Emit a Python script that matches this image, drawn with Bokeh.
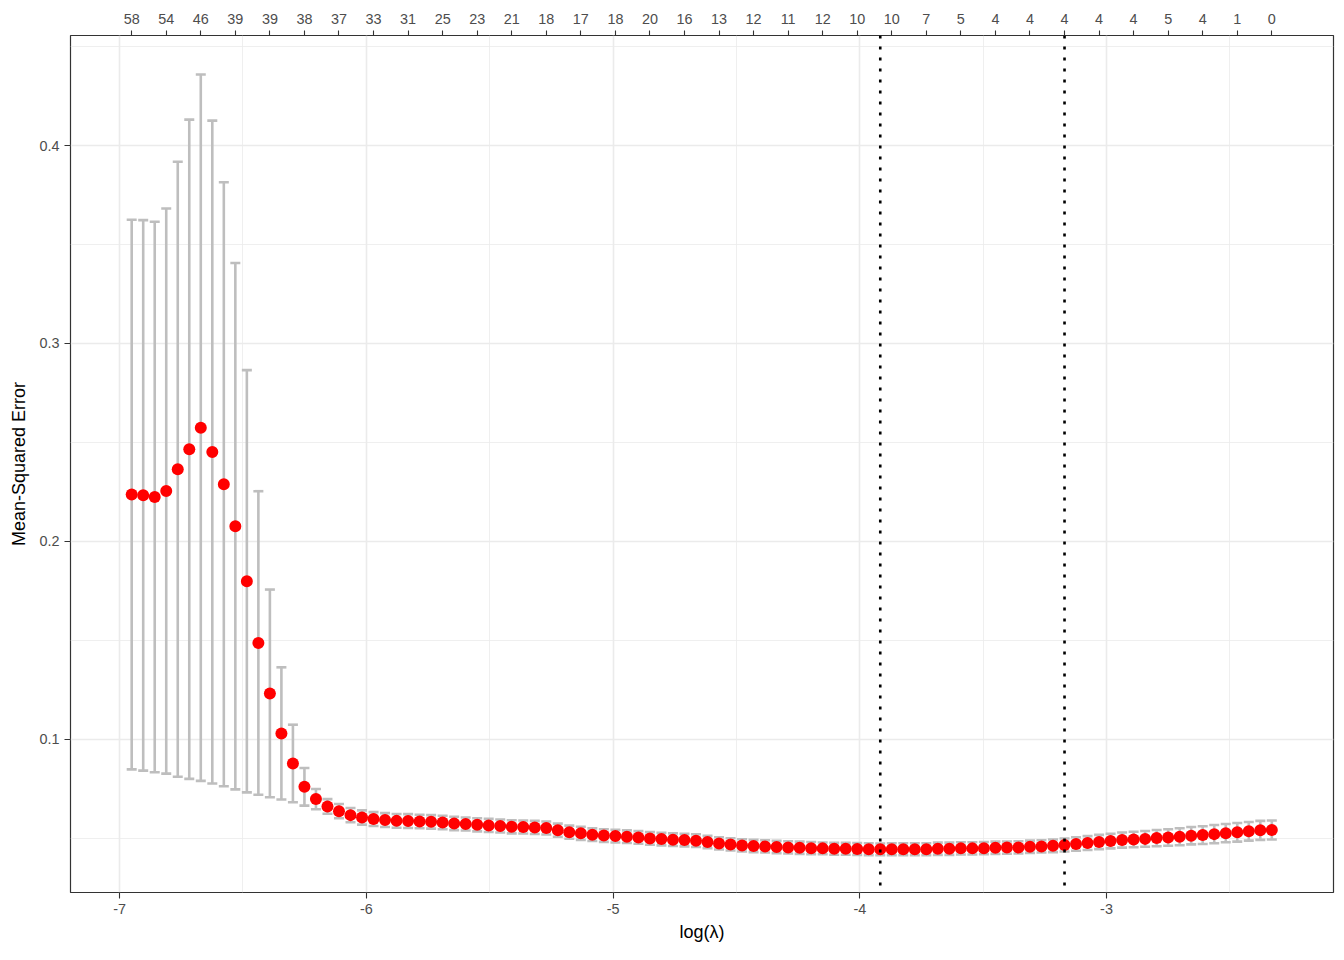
import numpy as np
from bokeh.plotting import figure
from bokeh.models import (ColumnDataSource, Range1d, LinearAxis, FixedTicker,
                          Whisker, TeeHead, Span)
from bokeh.embed import file_html
from bokeh.resources import INLINE

# ---- data ----
log_lambda_first = -6.951
log_lambda_last = -2.330
n_lambda = 100
log_lambda = np.linspace(log_lambda_first, log_lambda_last, n_lambda)

cv_mse = [
    0.2236, 0.2232, 0.2224, 0.2254, 0.2364, 0.2465, 0.2574, 0.2451, 0.2288, 0.2076,
    0.1798, 0.1486, 0.1231, 0.1029, 0.0877, 0.0759, 0.0697, 0.0660, 0.0636, 0.0616,
    0.0604, 0.0596, 0.0591, 0.0587, 0.0586, 0.0584, 0.0582, 0.0579, 0.0574, 0.0571,
    0.0567, 0.0564, 0.0561, 0.0557, 0.0556, 0.0554, 0.0551, 0.0540, 0.0530, 0.0524,
    0.0517, 0.0513, 0.0510, 0.0507, 0.0503, 0.0498, 0.0495, 0.0492, 0.0490, 0.0487,
    0.0480, 0.0473, 0.0468, 0.0463, 0.0460, 0.0458, 0.0455, 0.0453, 0.0451, 0.0449,
    0.0448, 0.0446, 0.0446, 0.0445, 0.0444, 0.0443, 0.0444, 0.0444, 0.0444, 0.0444,
    0.0446, 0.0446, 0.0448, 0.0448, 0.0449, 0.0451, 0.0452, 0.0453, 0.0456, 0.0458,
    0.0461, 0.0465, 0.0470, 0.0475, 0.0480, 0.0485, 0.0490, 0.0493, 0.0496, 0.0500,
    0.0503, 0.0507, 0.0512, 0.0515, 0.0520, 0.0525, 0.0529, 0.0534, 0.0539, 0.0541,
]

cv_sd = [
    0.1389, 0.1391, 0.1391, 0.1428, 0.1554, 0.1666, 0.1785, 0.1675, 0.1526, 0.1330,
    0.1067, 0.0767, 0.0525, 0.0334, 0.0196, 0.0095, 0.0051, 0.0037, 0.0036, 0.0036,
    0.0036, 0.0035, 0.0035, 0.0035, 0.0035, 0.0034, 0.0034, 0.0034, 0.0034, 0.0033,
    0.0033, 0.0033, 0.0033, 0.0033, 0.0033, 0.0033, 0.0033, 0.0033, 0.0033, 0.0033,
    0.0032, 0.0032, 0.0032, 0.0032, 0.0032, 0.0032, 0.0032, 0.0032, 0.0032, 0.0032,
    0.0031, 0.0031, 0.0031, 0.0031, 0.0031, 0.0031, 0.0031, 0.0031, 0.0031, 0.0031,
    0.0030, 0.0030, 0.0030, 0.0030, 0.0030, 0.0030, 0.0030, 0.0030, 0.0030, 0.0030,
    0.0031, 0.0031, 0.0031, 0.0031, 0.0031, 0.0031, 0.0031, 0.0031, 0.0031, 0.0031,
    0.0032, 0.0033, 0.0034, 0.0035, 0.0036, 0.0037, 0.0038, 0.0039, 0.0040, 0.0041,
    0.0042, 0.0043, 0.0044, 0.0045, 0.0046, 0.0046, 0.0047, 0.0047, 0.0048, 0.0048,
]

# number of nonzero coefficients, shown at every 3rd lambda
nzero_index = list(range(0, 100, 3))
nzero_labels = ["58", "54", "46", "39", "39", "38", "37", "33", "31", "25", "23", "21",
                "18", "17", "18", "20", "16", "13", "12", "11", "12", "10", "10", "7",
                "5", "4", "4", "4", "4", "4", "5", "4", "1", "0"]

idx_lambda_min = 65
idx_lambda_1se = 81

x_ticks = [-7, -6, -5, -4, -3]
x_tick_labels = ["-7", "-6", "-5", "-4", "-3"]
x_minor = [-6.5, -5.5, -4.5, -3.5, -2.5]
y_ticks = [0.1, 0.2, 0.3, 0.4]
y_tick_labels = ["0.1", "0.2", "0.3", "0.4"]
y_minor = [0.05, 0.15, 0.25, 0.35, 0.45]

# ---- build ----
mse = np.array(cv_mse)
sd = np.array(cv_sd)
src = ColumnDataSource(dict(x=log_lambda, y=mse, upper=mse + sd, lower=mse - sd))

xmin, xmax = -7.199, -2.080
ymin, ymax = 0.0225, 0.4556

FONT = "Liberation Sans"
TICK_COL = "#4D4D4D"
GRID_COL = "#EBEBEB"

p = figure(frame_width=1263, frame_height=857,
           x_range=Range1d(xmin, xmax), y_range=Range1d(ymin, ymax),
           output_backend="svg", toolbar_location=None,
           min_border_left=70, min_border_right=3, min_border_top=35, min_border_bottom=60,
           background_fill_color="white", border_fill_color="white")

p.outline_line_color = "#333333"
p.outline_line_width = 1.2

# grids
p.xgrid.ticker = FixedTicker(ticks=x_ticks, minor_ticks=x_minor)
p.ygrid.ticker = FixedTicker(ticks=y_ticks, minor_ticks=y_minor)
for g in (p.xgrid, p.ygrid):
    g.grid_line_color = GRID_COL
    g.grid_line_width = 1.6
    g.minor_grid_line_color = GRID_COL
    g.minor_grid_line_width = 0.8

def style_axis(ax):
    ax.axis_line_color = None
    ax.major_tick_line_color = "#333333"
    ax.major_tick_line_width = 1.1
    ax.major_tick_out = 6
    ax.major_tick_in = 0
    ax.minor_tick_line_color = None
    ax.major_label_text_font = FONT
    ax.major_label_text_font_size = "14.4px"
    ax.major_label_text_color = TICK_COL
    ax.axis_label_text_font = FONT
    ax.axis_label_text_font_size = "18px"
    ax.axis_label_text_font_style = "normal"
    ax.axis_label_text_color = "black"

xa = p.xaxis[0]
xa.ticker = FixedTicker(ticks=x_ticks, minor_ticks=x_minor)
xa.major_label_overrides = {t: s for t, s in zip(x_ticks, x_tick_labels)}
xa.axis_label = "log(λ)"
style_axis(xa)
xa.major_label_standoff = 5
xa.axis_label_standoff = 5

ya = p.yaxis[0]
ya.ticker = FixedTicker(ticks=y_ticks, minor_ticks=y_minor)
ya.major_label_overrides = {t: s for t, s in zip(y_ticks, y_tick_labels)}
ya.axis_label = "Mean-Squared Error"
style_axis(ya)
ya.major_label_standoff = 5
ya.axis_label_standoff = 7

# top axis on index scale
step = (log_lambda[-1] - log_lambda[0]) / (n_lambda - 1)
p.extra_x_ranges = {"idx": Range1d((xmin - log_lambda[0]) / step, (xmax - log_lambda[0]) / step)}
ta = LinearAxis(x_range_name="idx", ticker=FixedTicker(ticks=nzero_index),
                major_label_overrides={i: s for i, s in zip(nzero_index, nzero_labels)})
style_axis(ta)
ta.major_tick_out = 5
ta.major_label_standoff = 7
p.add_layout(ta, "above")

# error bars
wh = Whisker(source=src, base="x", upper="upper", lower="lower",
             line_color="#BEBEBE", line_width=2.6,
             upper_head=TeeHead(size=10, line_color="#BEBEBE", line_width=2.6),
             lower_head=TeeHead(size=10, line_color="#BEBEBE", line_width=2.6))
p.add_layout(wh)

# points
p.scatter("x", "y", source=src, size=12, fill_color="red", line_color=None)

# lambda.min / lambda.1se
for idx in (idx_lambda_min, idx_lambda_1se):
    p.add_layout(Span(location=float(log_lambda[idx]), dimension="height",
                      line_color="black", line_width=2.6, line_dash="3 8"))

open("out.html", "w").write(file_html(p, INLINE))
